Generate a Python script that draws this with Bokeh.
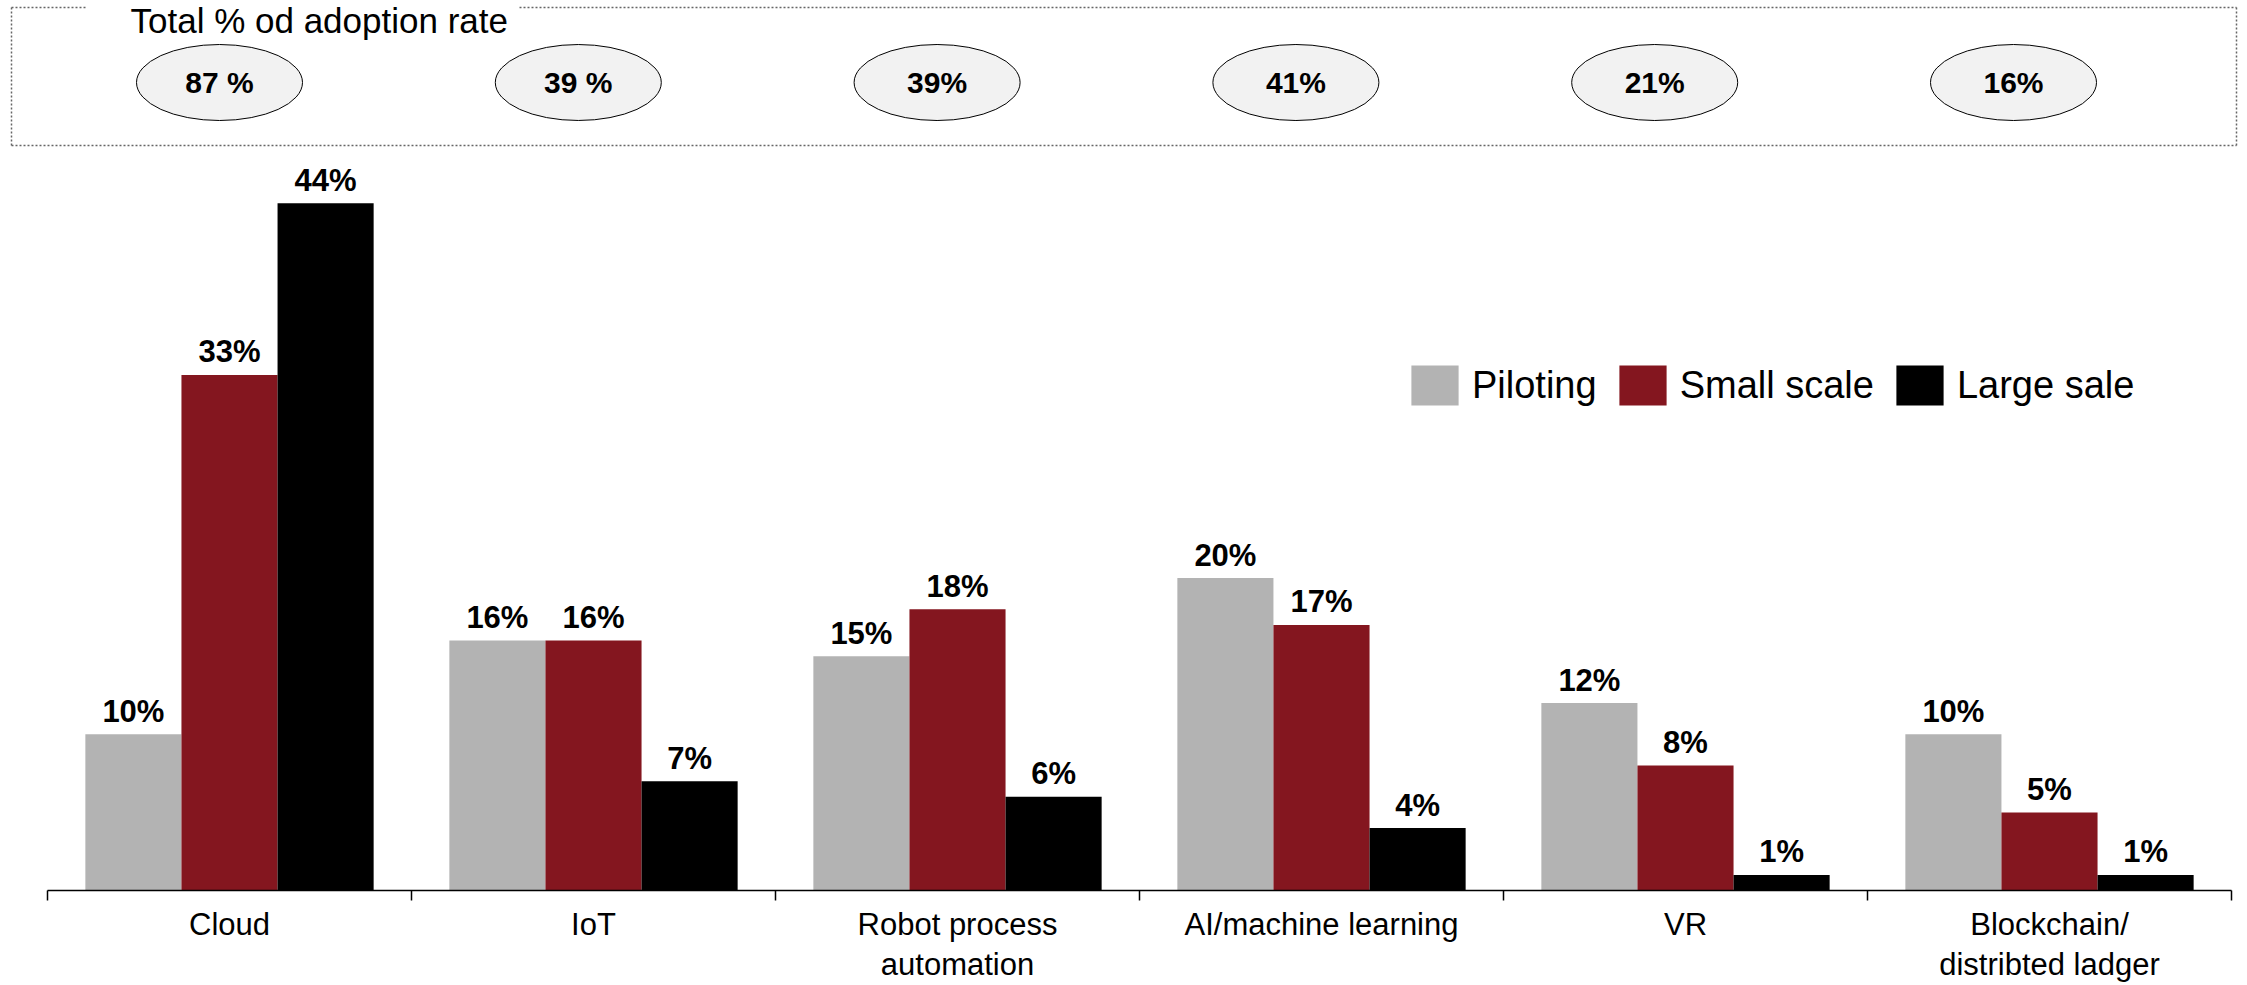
from bokeh.plotting import figure
from bokeh.models import Range1d, FixedTicker, ColumnDataSource, Legend, LegendItem
from bokeh.core.properties import value
from bokeh.embed import file_html
from bokeh.resources import INLINE

# ---------------- data ----------------
categories = ["Cloud", "IoT", "Robot process\nautomation", "AI/machine learning", "VR",
              "Blockchain/\ndistribted ladger"]
piloting = [10, 16, 15, 20, 12, 10]
small_scale = [33, 16, 18, 17, 8, 5]
large_scale = [44, 7, 6, 4, 1, 1]
series_names = ["Piloting", "Small scale", "Large sale"]
totals = ["87 %", "39 %", "39%", "41%", "21%", "16%"]
total_title = "Total % od adoption rate"

colors = ["#b3b3b3", "#84161f", "#000000"]
FONT_NAME = "Liberation Sans"
FONT = value(FONT_NAME)

centers = [i + 0.5 for i in range(len(categories))]

W = 2247
TOP_H = 150
BOT_H = 985 - TOP_H

# ---------------- top panel ----------------
def TX(px):
    return (px - 39.6) / 358.8

t = figure(width=W, height=TOP_H, x_range=Range1d(TX(0), TX(W)), y_range=Range1d(TOP_H, 0),
           output_backend="svg", toolbar_location=None, min_border=0,
           min_border_left=0, min_border_right=0, min_border_top=0, min_border_bottom=0,
           x_axis_location=None, y_axis_location=None)
t.outline_line_color = None
t.grid.visible = False

bx0, bx1, by0, by1 = TX(11), TX(2236), 7, 145
t.segment(x0=[bx0, TX(519), bx0, bx1, bx0], y0=[by0, by0, by0, by0, by1],
          x1=[TX(86), bx1, bx0, bx1, bx1], y1=[by0, by0, by1, by1, by1],
          line_color="#666666", line_width=1.5, line_dash="2 2")
t.text(x=[TX(130)], y=[20], text=[total_title], text_align="left", text_baseline="middle",
       text_font=FONT, text_font_size="35px", text_color="black")
t.ellipse(x=centers, y=[82] * len(centers), width=166, height=76,
          width_units="screen", height_units="screen",
          fill_color="#f2f2f2", line_color="black", line_width=1)
t.text(x=centers, y=[82] * len(centers), text=totals, text_align="center",
       text_baseline="middle", text_font=FONT, text_font_style="bold",
       text_font_size="30px", text_color="black")

# ---------------- bar chart ----------------
p = figure(width=W, height=BOT_H, x_range=Range1d(0, 6), y_range=Range1d(0, 47.37),
           output_backend="svg", toolbar_location=None,
           min_border_left=47, min_border_right=16, min_border_top=0, min_border_bottom=95,
           y_axis_location=None)
p.outline_line_color = None
p.grid.visible = False

BAR_W = 0.264
items = []
for k, (vals, color, name) in enumerate(zip([piloting, small_scale, large_scale], colors, series_names)):
    off = (k - 1) * BAR_W
    src = ColumnDataSource(dict(x=[c + off for c in centers], top=vals,
                                label=[f"{v}%" for v in vals]))
    r = p.vbar(x="x", top="top", width=BAR_W, source=src, fill_color=color, line_color=None)
    p.text(x="x", y="top", text="label", source=src, text_align="center",
           text_baseline="alphabetic", y_offset=-23, text_font=FONT, text_font_style="bold",
           text_font_size="31px", text_color="black")
    items.append(LegendItem(label=name, renderers=[r]))

legend = Legend(items=items, orientation="horizontal", location=(1358, 480),
                glyph_width=59, glyph_height=50, label_standoff=8, spacing=16,
                padding=0, margin=0, border_line_color=None, background_fill_alpha=0,
                label_text_font=FONT_NAME, label_text_font_size="38px", label_text_color="black")
p.add_layout(legend)

ax = p.xaxis[0]
ax.ticker = FixedTicker(ticks=centers, minor_ticks=list(range(len(categories) + 1)))
ax.major_label_overrides = {c: cat for c, cat in zip(centers, categories)}
ax.major_tick_line_color = None
ax.major_tick_out = 0
ax.major_tick_in = 0
ax.minor_tick_out = 10
ax.minor_tick_in = 0
ax.minor_tick_line_color = "black"
ax.minor_tick_line_width = 1.5
ax.axis_line_color = "black"
ax.axis_line_width = 1.5
ax.major_label_standoff = 6
ax.major_label_text_font = FONT_NAME
ax.major_label_text_font_size = "31px"
ax.major_label_text_line_height = 1.15
ax.major_label_text_color = "black"

open("out.html", "w").write(file_html([t, p], INLINE))
